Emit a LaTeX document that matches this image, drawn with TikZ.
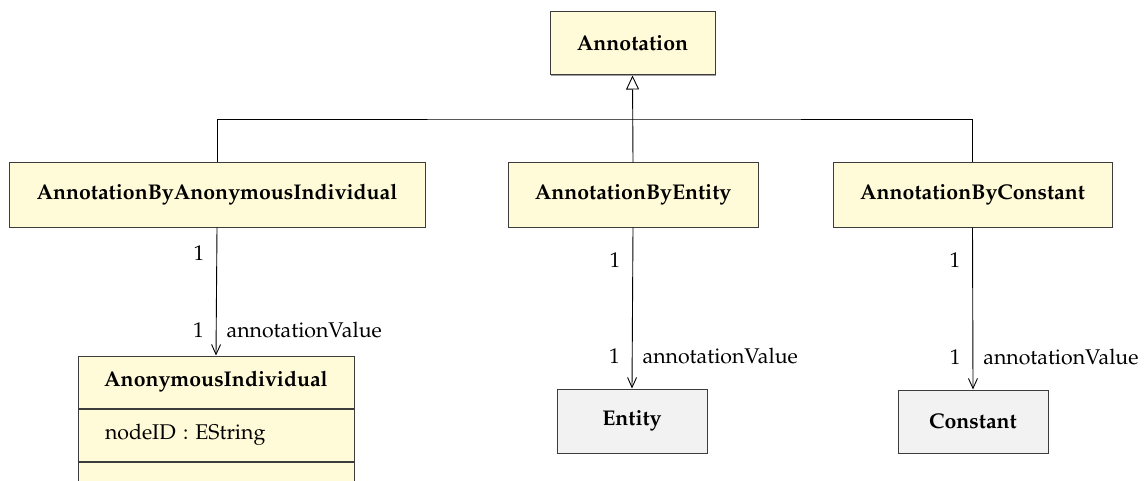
\documentclass[tikz,border=0pt]{standalone}
\usepackage[T1]{fontenc}
\usepackage{mathpazo}
\usepackage{tikz}
\usetikzlibrary{arrows.meta,shadows}
\definecolor{umlyellow}{RGB}{255,250,216}
\definecolor{umlgray}{RGB}{242,242,242}
\definecolor{umlline}{RGB}{60,60,60}

\tikzset{
  classbox/.style={draw=umlline, line width=1pt, fill=umlyellow, minimum height=64pt,
    font=\fontsize{21.3}{25}\selectfont\bfseries, inner sep=0pt,
    drop shadow={shadow xshift=1.3pt, shadow yshift=-1.3pt, fill=gray!75, opacity=1}},
  refbox/.style={classbox, fill=umlgray},
  attrbox/.style={draw=umlline, line width=1pt, fill=umlyellow, minimum height=52pt,
    font=\fontsize{21.3}{25}\selectfont, inner sep=0pt},
  gen/.style={draw=black, line width=0.9pt, -{Triangle[open, length=14pt, width=13pt, fill=white]}},
  assoc/.style={draw=black, line width=0.9pt, -{Straight Barb[length=10pt, width=9pt]}},
  mult/.style={font=\fontsize{21.3}{25}\selectfont, inner sep=2pt},
}

\begin{document}
\begin{tikzpicture}[x=1pt, y=-1pt]
  \useasboundingbox (0,0) rectangle (1148,481);
  \clip (0,0) rectangle (1148,481);

  % Superclass
  \node[classbox, minimum width=165pt, minimum height=63pt] (annot) at (632.5,43.5) {Annotation};

  % Subclasses
  \node[classbox, minimum width=416pt] (abai) at (217,195) {AnnotationByAnonymousIndividual};
  \node[classbox, minimum width=250pt] (abe) at (633,195) {AnnotationByEntity};
  \node[classbox, minimum width=279pt] (abc) at (972.5,195) {AnnotationByConstant};

  % Targets of annotationValue
  \node[classbox, minimum width=276pt, minimum height=52pt] (anon) at (216,382) {AnonymousIndividual};
  \node[attrbox, minimum width=276pt, anchor=north, text width=222pt, align=left] (anonattr) at (anon.south) {nodeID : EString};
  \node[attrbox, minimum width=276pt, anchor=north] (anonops) at (anonattr.south) {};
  \node[refbox, minimum width=150pt] (entity) at (632,421) {Entity};
  \node[refbox, minimum width=150pt, minimum height=63pt] (const) at (973,421.5) {Constant};

  % Generalisation tree
  \coordinate (junc) at (633,119);
  \draw[line width=0.9pt] (abai.north) |- (junc) -| (abc.north);
  \draw[gen] (abe.north) -- (annot.south);

  % Associations
  \foreach \src/\dst in {abai/anon, abe/entity, abc/const}
    \draw[assoc] (\src.south) --
      node[mult, pos=0.2, left=10pt] {1}
      node[mult, pos=0.8, left=10pt] {1}
      node[mult, pos=0.8, right=8pt] {annotationValue} (\dst.north);
\end{tikzpicture}
\end{document}
